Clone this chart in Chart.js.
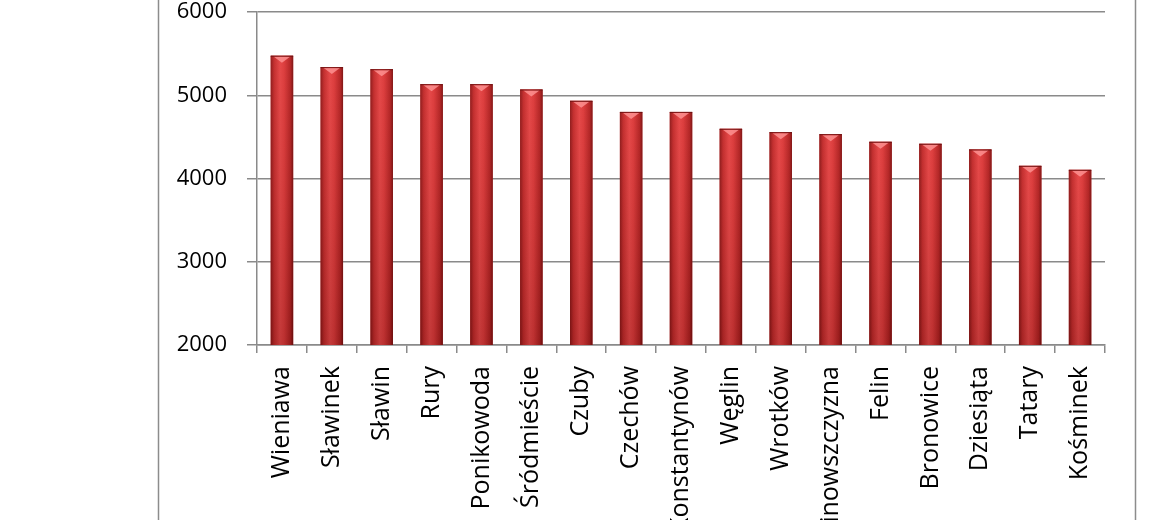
<!DOCTYPE html>
<html>
<head>
<meta charset="utf-8">
<script src="https://cdn.jsdelivr.net/npm/chart.js@4"></script>
<style>
  html, body { margin: 0; padding: 0; background: #fff; }
  #wrap { width: 1170px; height: 520px; }
</style>
</head>
<body>
<div id="wrap"><canvas id="chart" width="1170" height="520"></canvas></div>
<script>
const districts = ['Wieniawa', 'Sławinek', 'Sławin', 'Rury', 'Ponikowoda', 'Śródmieście', 'Czuby', 'Czechów',
    'Konstantynów', 'Węglin', 'Wrotków', 'Kalinowszczyzna', 'Felin', 'Bronowice', 'Dziesiąta', 'Tatary', 'Kośminek'];
const values = [5475, 5338, 5313, 5133, 5133, 5069, 4933, 4800, 4800, 4597, 4557, 4533, 4441, 4417, 4349, 4152, 4104];
const yTicks = [2000, 3000, 4000, 5000, 6000];

const gridColor = '#8a8a8a';
const fontFamily = '"Open Sans", "Liberation Sans", sans-serif';

// outer chart frame (left and right edges of the Excel chart box)
const framePlugin = {
    id: 'frame',
    beforeDraw(chart){
        const ctx = chart.ctx;
        ctx.save();
        ctx.strokeStyle = '#8c8c8c';
        ctx.lineWidth = 1.5;
        ctx.beginPath();
        ctx.moveTo(158.5, 0); ctx.lineTo(158.5, chart.height);
        ctx.moveTo(1135.5, 0); ctx.lineTo(1135.5, chart.height);
        ctx.stroke();
        ctx.restore();
    }
};

// cylinder-like shading on each bar
const shadePlugin = {
    id: 'shade',
    afterDatasetsDraw(chart){
        const ctx = chart.ctx;
        const bottom = chart.chartArea.bottom;
        ctx.save();
        chart.getDatasetMeta(0).data.forEach(bar => {
            const w = bar.width;
            const left = bar.x - w / 2;
            const h = bottom - bar.y;
            const g = ctx.createLinearGradient(left, 0, left + w, 0);
            g.addColorStop(0, '#821818');
            g.addColorStop(0.15, '#bc2c2c');
            g.addColorStop(0.42, '#e24848');
            g.addColorStop(0.6, '#d83c3c');
            g.addColorStop(0.88, '#aa2222');
            g.addColorStop(1, '#701010');
            ctx.fillStyle = g;
            ctx.fillRect(left, bar.y, w, h);
            // darker towards the bottom
            const v = ctx.createLinearGradient(0, bar.y, 0, bottom);
            v.addColorStop(0, 'rgba(255,80,80,0.12)');
            v.addColorStop(1, 'rgba(70,0,0,0.2)');
            ctx.fillStyle = v;
            ctx.fillRect(left, bar.y, w, h);
            // top cap
            ctx.fillStyle = 'rgba(255,150,150,0.8)';
            ctx.beginPath();
            ctx.moveTo(bar.x - w * 0.36, bar.y + 1);
            ctx.lineTo(bar.x + w * 0.36, bar.y + 1);
            ctx.lineTo(bar.x, bar.y + 7);
            ctx.closePath();
            ctx.fill();
            ctx.strokeStyle = 'rgba(100,15,15,0.8)';
            ctx.lineWidth = 1;
            ctx.beginPath();
            ctx.moveTo(left, bar.y + 0.5);
            ctx.lineTo(left + w, bar.y + 0.5);
            ctx.stroke();
        });
        ctx.restore();
    }
};

function displayChart(id){
    const ctx = document.getElementById(id);
    new Chart(ctx, {
        type: 'bar',
        data: {
            labels: districts,
            datasets: [{
                data: values,
                backgroundColor: '#c83030',
                borderWidth: 0,
                barPercentage: 0.45,
                categoryPercentage: 1.0
            }]
        },
        options: {
            responsive: false,
            animation: false,
            layout: { padding: { left: 0, right: 65, top: 12, bottom: 0 } },
            plugins: {
                legend: { display: false },
                tooltip: { enabled: false }
            },
            scales: {
                x: {
                    grid: {
                        offset: true,
                        drawOnChartArea: false,
                        drawTicks: true,
                        tickLength: 8,
                        color: gridColor,
                        lineWidth: 1.5
                    },
                    border: { color: gridColor, width: 1.5 },
                    ticks: {
                        autoSkip: false,
                        minRotation: 90,
                        maxRotation: 90,
                        padding: 13,
                        color: '#000',
                        font: { family: fontFamily, size: 25 }
                    },
                    afterFit(scale){ scale.height = 175; }
                },
                y: {
                    min: 2000,
                    max: 6000,
                    afterBuildTicks(scale){ scale.ticks = yTicks.map(v => ({value: v})); },
                    grid: {
                        color: gridColor,
                        lineWidth: 1.5,
                        tickLength: 10
                    },
                    border: { color: gridColor, width: 1.5 },
                    ticks: {
                        padding: 20,
                        color: '#000',
                        font: { family: fontFamily, size: 22, lineHeight: 1 },
                        callback: v => String(v)
                    },
                    afterFit(scale){
                        scale.width = 257;
                        scale.paddingTop = 0;
                        scale.paddingBottom = 0;
                    }
                }
            }
        },
        plugins: [framePlugin, shadePlugin]
    });
}

window.onload = () => displayChart('chart');
</script>
</body>
</html>
